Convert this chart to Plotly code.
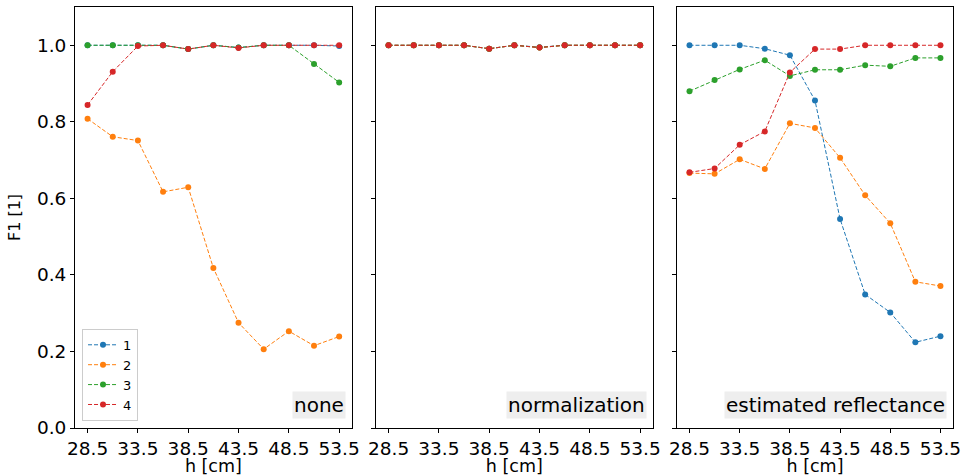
import plotly.graph_objects as go
from plotly.subplots import make_subplots

h = [28.5, 31.0, 33.5, 36.0, 38.5, 41.0, 43.5, 46.0, 48.5, 51.0, 53.5]
series_names = ["1", "2", "3", "4"]
colors = ["#1f77b4", "#ff7f0e", "#2ca02c", "#d62728"]
panel_titles = ["none", "normalization", "estimated reflectance"]

# panel "none"
none_1 = [1.0, 1.0, 1.0, 1.0, 0.99, 1.0, 0.994, 1.0, 1.0, 1.0, 0.998]
none_2 = [0.808, 0.761, 0.751, 0.617, 0.629, 0.418, 0.275, 0.206, 0.253, 0.215, 0.239]
none_3 = [1.0, 1.0, 1.0, 1.0, 0.99, 1.0, 0.994, 1.0, 1.0, 0.951, 0.903]
none_4 = [0.844, 0.931, 0.998, 1.0, 0.99, 1.0, 0.993, 1.0, 1.0, 1.0, 1.0]

# panel "normalization"
norm_1 = [1.0, 1.0, 1.0, 1.0, 0.991, 1.0, 0.995, 1.0, 1.0, 1.0, 1.0]
norm_2 = [1.0, 1.0, 1.0, 1.0, 0.991, 1.0, 0.994, 1.0, 1.0, 1.0, 1.0]
norm_3 = [1.0, 1.0, 1.0, 1.0, 0.991, 1.0, 0.994, 1.0, 1.0, 1.0, 1.0]
norm_4 = [1.0, 1.0, 1.0, 1.0, 0.991, 1.0, 0.994, 1.0, 1.0, 1.0, 1.0]

# panel "estimated reflectance"
refl_1 = [1.0, 1.0, 1.0, 0.991, 0.974, 0.856, 0.546, 0.349, 0.302, 0.224, 0.240]
refl_2 = [0.666, 0.664, 0.702, 0.677, 0.796, 0.784, 0.706, 0.608, 0.535, 0.382, 0.371]
refl_3 = [0.880, 0.909, 0.937, 0.961, 0.920, 0.936, 0.936, 0.948, 0.945, 0.967, 0.967]
refl_4 = [0.668, 0.678, 0.740, 0.775, 0.929, 0.990, 0.990, 1.0, 1.0, 1.0, 1.0]

panels = [
    [none_1, none_2, none_3, none_4],
    [norm_1, norm_2, norm_3, norm_4],
    [refl_1, refl_2, refl_3, refl_4],
]

x_ticks = [28.5, 33.5, 38.5, 43.5, 48.5, 53.5]
y_ticks = [0.0, 0.2, 0.4, 0.6, 0.8, 1.0]

FONT = "DejaVu Sans"

fig = make_subplots(rows=1, cols=3, shared_yaxes=True)

for p, data in enumerate(panels):
    for i, vals in enumerate(data):
        fig.add_trace(
            go.Scatter(
                x=h, y=vals, name=series_names[i], mode="lines+markers",
                line=dict(color=colors[i], width=1, dash="4px,2px"),
                marker=dict(color=colors[i], size=6),
                showlegend=(p == 0), legendgroup=series_names[i],
            ),
            row=1, col=p + 1,
        )

domains = [[0.0, 0.3152], [0.3428, 0.6580], [0.6856, 1.0]]
for p in range(3):
    xa = "xaxis" if p == 0 else f"xaxis{p+1}"
    ya = "yaxis" if p == 0 else f"yaxis{p+1}"
    fig.layout[xa].update(
        domain=domains[p], range=[27.25, 54.75], tickvals=x_ticks,
        ticktext=[f"{t:.1f}" for t in x_ticks],
        showgrid=False, zeroline=False, showline=True, linecolor="black",
        linewidth=1, mirror=True, ticks="outside", ticklen=4, tickwidth=1,
        tickcolor="black", tickfont=dict(family=FONT, size=18.5, color="black"),
        title=dict(text="h [cm]", font=dict(family=FONT, size=17.5, color="black"), standoff=0),
        automargin=False,
    )
    fig.layout[ya].update(
        range=[0, 1.1], tickvals=y_ticks, ticktext=[f"{t:.1f}" for t in y_ticks],
        showgrid=False, zeroline=False, showline=True, linecolor="black",
        linewidth=1, mirror=True, ticks="outside", ticklen=4, tickwidth=1,
        tickcolor="black", showticklabels=(p == 0),
        tickfont=dict(family=FONT, size=18.5, color="black"), automargin=False,
    )
    fig.add_annotation(
        text=panel_titles[p], xref=f"{'x' if p == 0 else 'x' + str(p+1)} domain",
        yref=f"{'y' if p == 0 else 'y' + str(p+1)} domain", x=1, y=0,
        xanchor="right", yanchor="bottom", xshift=-6, yshift=9,
        showarrow=False, bgcolor="#eeeeee", borderpad=1,
        font=dict(family=FONT, size=20, color="black"),
    )

fig.layout.yaxis.title = dict(text="F1 [1]", font=dict(family=FONT, size=16, color="black"), standoff=12)

fig.update_layout(
    width=969, height=476,
    margin=dict(l=75, r=16, t=7, b=48),
    plot_bgcolor="white", paper_bgcolor="white",
    font=dict(family=FONT, color="black"),
    legend=dict(
        x=0.008, y=0.017, xanchor="left", yanchor="bottom",
        bgcolor="white", bordercolor="#cccccc", borderwidth=1,
        font=dict(family=FONT, size=13, color="black"),
        tracegroupgap=0, itemwidth=30,
    ),
)

fig.write_html("out.html")
